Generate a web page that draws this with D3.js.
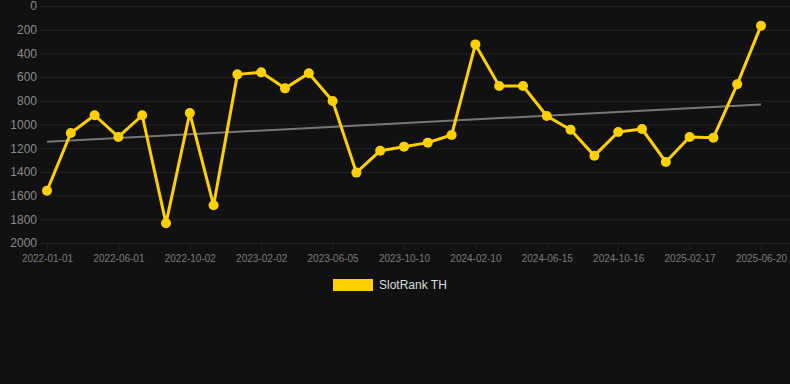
<!DOCTYPE html>
<html>
<head>
<meta charset="utf-8">
<script src="https://cdn.jsdelivr.net/npm/d3@7"></script>
<style>
  html, body { margin: 0; padding: 0; background: #111111; }
  svg { display: block; font-family: "Liberation Sans", Arial, sans-serif; }
</style>
</head>
<body>
<svg class="chart"></svg>
<script>
// Dates along the x axis (every third one is labelled)
const dates = [
  "2022-01-01", "2022-02-20", "2022-04-10",
  "2022-06-01", "2022-07-12", "2022-08-22",
  "2022-10-02", "2022-11-12", "2022-12-23",
  "2023-02-02", "2023-03-15", "2023-04-25",
  "2023-06-05", "2023-07-18", "2023-08-29",
  "2023-10-10", "2023-11-20", "2023-12-31",
  "2024-02-10", "2024-03-22", "2024-05-04",
  "2024-06-15", "2024-07-26", "2024-09-05",
  "2024-10-16", "2024-11-27", "2025-01-07",
  "2025-02-17", "2025-03-30", "2025-05-10",
  "2025-06-20"
];

// SlotRank TH values (lower is better, axis reversed)
const ranks = [
  1559, 1072, 922, 1105, 922, 1834, 903, 1682, 577, 560, 695,
  568, 802, 1406, 1221, 1187, 1153, 1089, 324, 675, 675,
  928, 1044, 1263, 1063, 1038, 1316, 1105, 1111, 661, 166
];

const yTicks = [0, 200, 400, 600, 800, 1000, 1200, 1400, 1600, 1800, 2000];
const seriesName = "SlotRank TH";

const width = 790;
const height = 384;
const plotLeft = 47;
const plotRight = 761;
const plotTop = 6;
const plotBottom = 243;

const svg = d3.select("svg.chart")
  .attr("width", width)
  .attr("height", height)
  .attr("viewBox", `0 0 ${width} ${height}`);

const x = d3.scalePoint()
  .domain(dates)
  .range([plotLeft, plotRight]);

const y = d3.scaleLinear()
  .domain([0, 2000])
  .range([plotTop, plotBottom]);

const tickDates = dates.filter((d, i) => i % 3 === 0);

// horizontal grid + y labels
const yAxis = svg.append("g")
  .attr("transform", `translate(${plotLeft},0)`)
  .call(d3.axisLeft(y).tickValues(yTicks).tickFormat(d3.format("d"))
    .tickSize(-(width - plotLeft)).tickPadding(10))
  .call(g => g.select(".domain").remove());
yAxis.selectAll(".tick line").attr("stroke", "#242424").attr("x1", -7);
yAxis.selectAll(".tick text")
  .attr("fill", "#8a8a8a")
  .style("font-size", "12px");

// vertical grid + x labels
const xAxis = svg.append("g")
  .attr("transform", `translate(0,${plotBottom})`)
  .call(d3.axisBottom(x).tickValues(tickDates).tickSize(-(plotBottom - plotTop)).tickPadding(12))
  .call(g => g.select(".domain").remove());
xAxis.selectAll(".tick line").attr("stroke", "#222222").attr("y2", 7);
xAxis.selectAll(".tick text")
  .attr("fill", "#7a7a7a")
  .style("font-size", "10px");

// trend line (least squares)
const idx = ranks.map((d, i) => i);
const mx = d3.mean(idx), my = d3.mean(ranks);
const slope = d3.sum(idx, i => (i - mx) * (ranks[i] - my)) / d3.sum(idx, i => (i - mx) ** 2);
const icpt = my - slope * mx;
const trend = [0, ranks.length - 1].map(i => ({ date: dates[i], v: icpt + slope * i }));

svg.append("path")
  .datum(trend)
  .attr("fill", "none")
  .attr("stroke", "#777777")
  .attr("stroke-width", 2)
  .attr("d", d3.line().x(d => x(d.date)).y(d => y(d.v)));

// series line
const data = dates.map((d, i) => ({ date: d, v: ranks[i] }));
const yellow = "#ffd000";

svg.append("path")
  .datum(data)
  .attr("fill", "none")
  .attr("stroke", yellow)
  .attr("stroke-width", 3)
  .attr("stroke-linejoin", "round")
  .attr("d", d3.line().x(d => x(d.date)).y(d => y(d.v)));

svg.append("g")
  .selectAll("circle")
  .data(data)
  .join("circle")
  .attr("cx", d => x(d.date))
  .attr("cy", d => y(d.v))
  .attr("r", 5)
  .attr("fill", yellow);

// legend
const legend = svg.append("g").attr("transform", "translate(333,279)");
legend.append("rect")
  .attr("width", 40)
  .attr("height", 12)
  .attr("fill", yellow);
legend.append("text")
  .attr("x", 46)
  .attr("y", 6)
  .attr("dy", "0.35em")
  .attr("fill", "#dddddd")
  .style("font-size", "12px")
  .text(seriesName);
</script>
</body>
</html>
